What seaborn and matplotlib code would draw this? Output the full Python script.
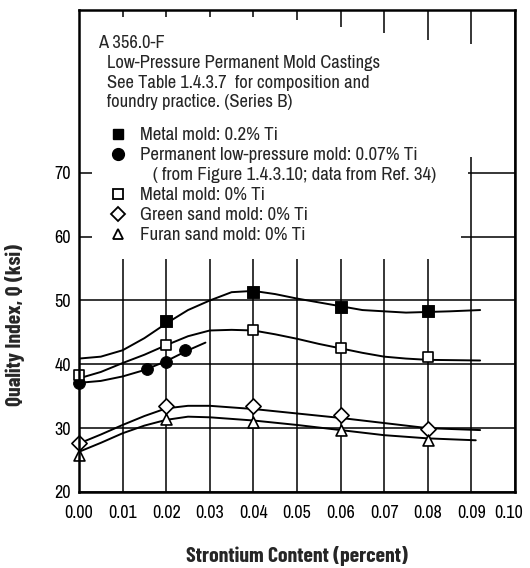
import matplotlib
matplotlib.use("Agg")
import matplotlib.pyplot as plt
from matplotlib.lines import Line2D
from matplotlib.patches import Rectangle
from matplotlib.transforms import ScaledTranslation
import seaborn as sns

sns.set_theme(style="white")
plt.rcParams['font.family'] = ['Archivo Narrow', 'Liberation Sans', 'DejaVu Sans']
BOLD_FAMILY = ['Barlow Condensed', 'Liberation Sans', 'DejaVu Sans']

# ---- measured points ----
metal_ti02_x = [0.02, 0.04, 0.06, 0.08]
metal_ti02_y = [46.8, 51.4, 49.0, 48.4]

perm_lp_x = [0.0, 0.0156, 0.02, 0.0243]
perm_lp_y = [37.0, 39.2, 40.4, 42.3]

metal_ti0_x = [0.0, 0.02, 0.04, 0.06, 0.08]
metal_ti0_y = [38.3, 43.0, 45.3, 42.6, 41.2]

green_x = [0.0, 0.02, 0.04, 0.06, 0.08]
green_y = [27.7, 33.5, 33.4, 32.0, 29.8]

furan_x = [0.0, 0.02, 0.04, 0.06, 0.08]
furan_y = [25.8, 31.4, 30.9, 29.7, 28.1]

# ---- fitted curves ----
c_metal_ti02_x = [0.0, 0.005, 0.01, 0.015, 0.02, 0.025, 0.03, 0.035, 0.04, 0.045, 0.05, 0.055, 0.06, 0.065, 0.07, 0.075, 0.08, 0.085, 0.092]
c_metal_ti02_y = [40.9, 41.2, 42.2, 44.1, 46.4, 48.5, 50.0, 51.3, 51.5, 51.0, 50.3, 49.7, 49.1, 48.5, 48.3, 48.1, 48.2, 48.3, 48.5]

c_metal_ti0_x = [0.0, 0.005, 0.01, 0.015, 0.02, 0.025, 0.03, 0.035, 0.04, 0.045, 0.05, 0.055, 0.06, 0.065, 0.07, 0.075, 0.08, 0.092]
c_metal_ti0_y = [37.8, 38.8, 40.2, 41.5, 43.0, 44.4, 45.3, 45.4, 45.3, 44.7, 44.0, 43.2, 42.5, 41.8, 41.2, 40.9, 40.7, 40.6]

c_perm_lp_x = [0.0, 0.005, 0.01, 0.015, 0.02, 0.025, 0.029]
c_perm_lp_y = [37.1, 37.4, 38.1, 39.1, 40.5, 42.2, 43.4]

c_green_x = [0.0, 0.005, 0.01, 0.015, 0.02, 0.025, 0.03, 0.04, 0.05, 0.06, 0.07, 0.08, 0.092]
c_green_y = [27.6, 29.0, 30.5, 31.9, 33.1, 33.5, 33.5, 33.0, 32.3, 31.6, 30.8, 30.0, 29.7]

c_furan_x = [0.0, 0.005, 0.01, 0.015, 0.02, 0.025, 0.03, 0.04, 0.05, 0.06, 0.07, 0.08, 0.091]
c_furan_y = [26.3, 27.7, 29.2, 30.4, 31.3, 31.8, 31.7, 31.2, 30.5, 29.7, 28.9, 28.4, 28.1]

x_ticks = [0.00, 0.01, 0.02, 0.03, 0.04, 0.05, 0.06, 0.07, 0.08, 0.09, 0.10]
y_ticks = [20, 30, 40, 50, 60, 70]

header_lines = ["A 356.0-F",
                "Low-Pressure Permanent Mold Castings",
                "See Table 1.4.3.7  for composition and",
                "foundry practice. (Series B)"]
legend_labels = ["Metal mold: 0.2% Ti",
                 "Permanent low-pressure mold: 0.07% Ti",
                 "   ( from Figure 1.4.3.10; data from Ref. 34)",
                 "Metal mold: 0% Ti",
                 "Green sand mold: 0% Ti",
                 "Furan sand mold: 0% Ti"]

W, H = 530, 568
fig = plt.figure(figsize=(W / 100, H / 100), dpi=100)
L, R, T, B = 79, 515, 10, 492
ax = fig.add_axes([L / W, 1 - B / H, (R - L) / W, (B - T) / H])
ax.set_facecolor("white")

def axfrac(px, py):
    return (px - L) / (R - L), (B - py) / (B - T)

ax.set_xlim(0.0, 0.0995)
ax.set_ylim(20, 95.5)
ax.set_xticks(x_ticks)
ax.set_xticklabels([f"{v:.2f}" for v in x_ticks])
ax.set_yticks(y_ticks)
ax.tick_params(axis="both", which="both", length=0, labelsize=13, colors="black")
ax.tick_params(axis="x", pad=9)
ax.tick_params(axis="y", pad=6)
ax.grid(True, color="black", linewidth=1.1, zorder=0)
ax.set_axisbelow(True)
for s in ax.spines.values():
    s.set_color("black")
    s.set_linewidth(1.8)
    s.set_zorder(7)

# last x label sits slightly inward, as in the original
lbls = ax.get_xticklabels()
lbls[-1].set_transform(lbls[-1].get_transform() + ScaledTranslation(-6 / 100, 0, fig.dpi_scale_trans))

# the caption area hides the grid behind it (stepped top edge leaves short top ticks)
box_edges = [0.0030, 0.045, 0.055, 0.065, 0.075, 0.0875]
box_tops = [94.4, 94.0, 92.9, 91.9, 90.8]
for x_a, x_b, top in zip(box_edges[:-1], box_edges[1:], box_tops):
    ax.add_patch(Rectangle((x_a, 56.5), x_b - x_a, top - 56.5, facecolor="white", edgecolor="none", zorder=1))
ax.add_patch(Rectangle((0.0870, 72.4), 0.0045, 17.7, facecolor="white", edgecolor="none", zorder=1))
ax.add_patch(Rectangle((0.0870, 62.0), 0.0023, 10.5, facecolor="white", edgecolor="none", zorder=1))

curves = [(c_metal_ti02_x, c_metal_ti02_y), (c_metal_ti0_x, c_metal_ti0_y),
          (c_perm_lp_x, c_perm_lp_y), (c_green_x, c_green_y), (c_furan_x, c_furan_y)]
for cx, cy in curves:
    sns.lineplot(x=cx, y=cy, color="black", linewidth=1.4, ax=ax, zorder=3, estimator=None, sort=False)

sns.scatterplot(x=metal_ti02_x, y=metal_ti02_y, marker="s", color="black", edgecolor="black", s=64, ax=ax, zorder=4, clip_on=False)
sns.scatterplot(x=perm_lp_x, y=perm_lp_y, marker="o", color="black", edgecolor="black", s=72, ax=ax, zorder=4, clip_on=False)
sns.scatterplot(x=metal_ti0_x, y=metal_ti0_y, marker="s", color="white", edgecolor="black", linewidth=1.2, s=60, ax=ax, zorder=4, clip_on=False)
sns.scatterplot(x=green_x, y=green_y, marker="D", color="white", edgecolor="black", linewidth=1.2, s=60, ax=ax, zorder=4, clip_on=False)
sns.scatterplot(x=furan_x, y=furan_y, marker="^", color="white", edgecolor="black", linewidth=1.2, s=62, ax=ax, zorder=4, clip_on=False)

FS_HEAD = 13.3
FS_LEG = 13.6
x0, y0 = axfrac(98, 43)
ax.text(x0, y0, header_lines[0], transform=ax.transAxes, fontsize=FS_HEAD, va="center", ha="left", zorder=5)
for i, line in enumerate(header_lines[1:]):
    xi, yi = axfrac(107, 63 + 19.7 * i)
    ax.text(xi, yi, line, transform=ax.transAxes, fontsize=FS_HEAD, va="center", ha="left", zorder=5)

handles = [
    Line2D([], [], marker="s", color="black", linestyle="none", markersize=7.5),
    Line2D([], [], marker="o", color="black", linestyle="none", markersize=8.5),
    Line2D([], [], marker="none", linestyle="none"),
    Line2D([], [], marker="s", markerfacecolor="white", markeredgecolor="black", linestyle="none", markersize=7, markeredgewidth=1.3),
    Line2D([], [], marker="D", markerfacecolor="white", markeredgecolor="black", linestyle="none", markersize=7.5, markeredgewidth=1.3),
    Line2D([], [], marker="^", markerfacecolor="white", markeredgecolor="black", linestyle="none", markersize=7.5, markeredgewidth=1.3),
]
lx, ly = axfrac(110, 127)
leg = ax.legend(handles, legend_labels, loc="upper left", bbox_to_anchor=(lx, ly),
                frameon=False, fontsize=FS_LEG, handlelength=0.85, handletextpad=0.75,
                labelspacing=0.2, borderaxespad=0, borderpad=0)
leg.set_zorder(6)

ax.set_xlabel("Strontium Content (percent)", fontsize=15.6, fontweight="bold", family=BOLD_FAMILY, labelpad=18)
ax.set_ylabel("Quality Index, Q (ksi)", fontsize=15.6, fontweight="bold", family=BOLD_FAMILY)
ax.yaxis.set_label_coords((25 - L) / (R - L), (B - 325) / (B - T))

fig.savefig("out.png", dpi=100, facecolor="white")
